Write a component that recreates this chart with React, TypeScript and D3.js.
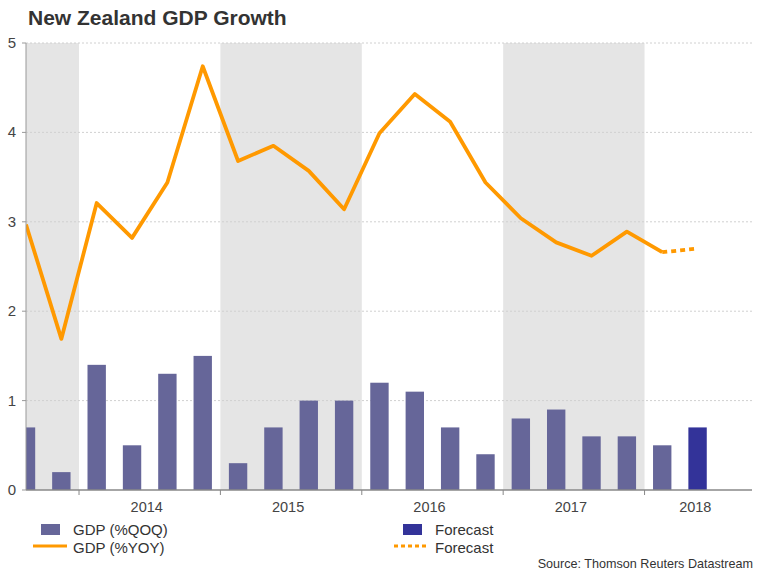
import React from "react";
import * as d3 from "d3";

// quarter mid-points as fractional years, 2013 Q3 .. 2018 Q2
const quarters = [
  "2013Q3", "2013Q4",
  "2014Q1", "2014Q2", "2014Q3", "2014Q4",
  "2015Q1", "2015Q2", "2015Q3", "2015Q4",
  "2016Q1", "2016Q2", "2016Q3", "2016Q4",
  "2017Q1", "2017Q2", "2017Q3", "2017Q4",
  "2018Q1", "2018Q2",
];
const qoq = [0.7, 0.2, 1.4, 0.5, 1.3, 1.5, 0.3, 0.7, 1.0, 1.0, 1.2, 1.1, 0.7, 0.4, 0.8, 0.9, 0.6, 0.6, 0.5, 0.7];
const yoy = [2.97, 1.69, 3.21, 2.82, 3.44, 4.74, 3.68, 3.85, 3.57, 3.14, 3.99, 4.43, 4.12, 3.44, 3.04, 2.77, 2.62, 2.89, 2.66, 2.70];
const forecastFrom = 19; // last quarter is a forecast
const years = [2013, 2014, 2015, 2016, 2017, 2018];
const shadedYears = [2013, 2015, 2017];
const yTicks = [0, 1, 2, 3, 4, 5];

const FONT = "'Liberation Sans', Arial, sans-serif";
const BAR = "#666699";
const BAR_FC = "#333399";
const LINE = "#ff9900";

const toTime = (q: string) => +q.slice(0, 4) + (+q.slice(5) - 0.5) / 4;

export default function App() {
  const width = 768;
  const height = 576;
  const left = 26, right = 752, top = 43, bottom = 490;

  const x = d3.scaleLinear().domain([2013.625, 2018.76]).range([left, right]);
  const y = d3.scaleLinear().domain([0, 5]).range([bottom, top]);
  const qw = x(2014.25) - x(2014);
  const barW = qw * 0.52;

  const pts = quarters.map((q, i) => ({ t: toTime(q), v: yoy[i], i }));
  const line = d3.line<{ t: number; v: number }>().x((d) => x(d.t)).y((d) => y(d.v));
  const solid = pts.slice(0, forecastFrom);
  const dashed = pts.slice(forecastFrom - 1);

  const [d0, d1] = x.domain();

  return (
    <svg width={width} height={height} style={{ position: "absolute", left: 0, top: 0 }} fontFamily={FONT}>
      <defs>
        <clipPath id="plot">
          <rect x={left} y={top - 10} width={right - left} height={bottom - top + 10} />
        </clipPath>
      </defs>
      <rect width={width} height={height} fill="#fff" />

      <text x={28} y={25} fontSize={21} fontWeight="bold" fill="#333">New Zealand GDP Growth</text>

      {/* shaded year bands */}
      {shadedYears.map((yr) => {
        const a = x(Math.max(yr, d0));
        const b = x(Math.min(yr + 1, d1));
        return <rect key={yr} x={a} y={top} width={b - a} height={bottom - top} fill="#e5e5e5" />;
      })}

      {/* gridlines */}
      {yTicks.filter((t) => t > 0).map((t) => (
        <line key={t} x1={left} x2={right} y1={y(t)} y2={y(t)} stroke="#d0d0d0" strokeDasharray="2,2" />
      ))}

      <g clipPath="url(#plot)">
        {quarters.map((q, i) => (
          <rect
            key={q}
            x={x(toTime(q)) - barW / 2}
            y={y(qoq[i])}
            width={barW}
            height={y(0) - y(qoq[i])}
            fill={i >= forecastFrom ? BAR_FC : BAR}
          />
        ))}
        <path d={line(solid) as string} fill="none" stroke={LINE} strokeWidth={3.8} strokeLinejoin="round" />
        <path d={line(dashed) as string} fill="none" stroke={LINE} strokeWidth={3.8} strokeDasharray="5,4" />
      </g>

      {/* y axis */}
      <line x1={left} x2={left} y1={top} y2={bottom} stroke="#999" />
      {yTicks.map((t) => (
        <g key={t}>
          <line x1={left - 4} x2={left} y1={y(t)} y2={y(t)} stroke="#999" />
          <text x={16} y={y(t) + 5} textAnchor="end" fontSize={15} fill="#444">{t}</text>
        </g>
      ))}

      {/* x axis */}
      <line x1={left} x2={right} y1={bottom} y2={bottom} stroke="#888" strokeWidth={1.5} />
      {years.filter((yr) => yr > d0 && yr < d1).map((yr) => (
        <line key={yr} x1={x(yr)} x2={x(yr)} y1={bottom} y2={bottom + 5} stroke="#888" />
      ))}
      {years.filter((yr) => yr >= 2014).map((yr) => {
        const a = Math.max(yr, d0);
        const b = Math.min(yr + 1, d1);
        return (
          <text key={yr} x={x((a + b) / 2) - 3} y={512} textAnchor="middle" fontSize={14.5} fill="#444">{yr}</text>
        );
      })}

      {/* legend */}
      <rect x={41} y={524} width={19} height={11} fill={BAR} />
      <text x={73} y={535} fontSize={15} fill="#333">GDP (%QOQ)</text>
      <line x1={33} x2={67} y1={546} y2={546} stroke={LINE} strokeWidth={3} />
      <text x={73} y={553} fontSize={15} fill="#333">GDP (%YOY)</text>

      <rect x={403} y={524} width={19} height={11} fill={BAR_FC} />
      <text x={435} y={535} fontSize={15} fill="#333">Forecast</text>
      <line x1={394} x2={428} y1={546} y2={546} stroke={LINE} strokeWidth={3} strokeDasharray="4,3" />
      <text x={435} y={553} fontSize={15} fill="#333">Forecast</text>

      <text x={753} y={568} textAnchor="end" fontSize={12.6} fill="#333">Source: Thomson Reuters Datastream</text>
    </svg>
  );
}
